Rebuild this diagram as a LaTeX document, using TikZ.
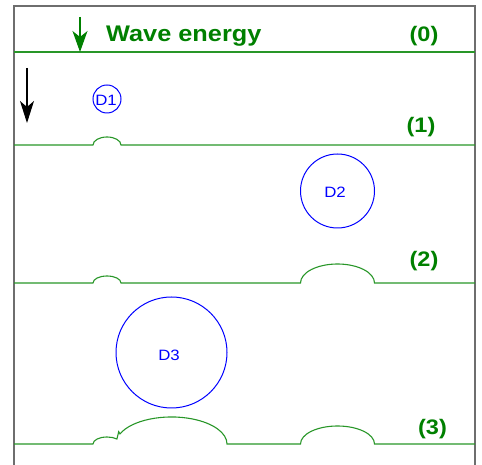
\documentclass[tikz,border=0pt]{standalone}
\usepackage{fontspec}
\setmainfont{Liberation Sans}[FakeStretch=1.12]
\usetikzlibrary{arrows.meta}
\definecolor{wgreen}{RGB}{0,128,0}
\definecolor{wline}{RGB}{40,150,40}
\definecolor{frame}{RGB}{110,110,110}
\tikzset{
  framestyle/.style={draw=frame, line width=1.3pt},
  surface/.style={draw=wline, line width=1.1pt},
  drop/.style={draw=blue, line width=1pt},
  droplabel/.style={text=blue, font=\fontsize{15}{17}\selectfont, inner sep=0pt},
  steplabel/.style={text=wgreen, font=\bfseries\fontsize{21}{24}\selectfont, inner sep=0pt, anchor=base},
}
\begin{document}
\begin{tikzpicture}[x=1pt,y=1pt]
\useasboundingbox (0,0) rectangle (482,465);
% frame
\draw[framestyle] (14,0) -- (14,459) -- (475,459) -- (475,0);
% surfaces
\draw[surface] (14,413) -- (475,413);
\draw[surface] (14,320) -- (93,320) arc[start angle=180,end angle=0,x radius=14,y radius=8] -- (475,320);
\draw[surface] (14,182) -- (93,182) arc[start angle=180,end angle=0,x radius=14,y radius=7]
  -- (300.5,182) arc[start angle=180,end angle=0,x radius=37,y radius=19] -- (475,182);
\draw[surface] (14,21) -- (93,21) arc[start angle=180,end angle=45,x radius=14,y radius=7]
  -- (118.7,33.3) -- (120,31.1) arc[start angle=158.1,end angle=0,x radius=55.5,y radius=27]
  -- (300.5,21) arc[start angle=180,end angle=0,x radius=37,y radius=18] -- (475,21);
% arrows
\coordinate (ga) at (80,448);
\coordinate (gb) at (80,413);
\draw[draw=wgreen, line width=1.1pt, -{Stealth[length=21pt,width=15pt,inset=6pt]}] (ga) -- (gb);
\coordinate (ba) at (27,397);
\coordinate (bb) at (27,342);
\draw[draw=black, line width=1.1pt, -{Stealth[length=22pt,width=14pt,inset=6pt]}] (ba) -- (bb);
% labels
\node[steplabel, anchor=base west, font=\bfseries\fontsize{22.6}{26}\selectfont] (title) at (106,423) {Wave energy};
\node[steplabel] (s0) at (424,423.5) {(0)};
\node[steplabel] (s1) at (421,332) {(1)};
\node[steplabel] (s2) at (424,198) {(2)};
\node[steplabel] (s3) at (432.5,30) {(3)};
% drops
\draw[drop] (107,366) circle[radius=14];
\node[droplabel] (d1) at (106,365) {D1};
\draw[drop] (337.5,274) circle[radius=37];
\node[droplabel] (d2) at (335,273) {D2};
\draw[drop] (171.5,112.5) circle[radius=55.5];
\node[droplabel] (d3) at (169,109.5) {D3};
\end{tikzpicture}
\end{document}
